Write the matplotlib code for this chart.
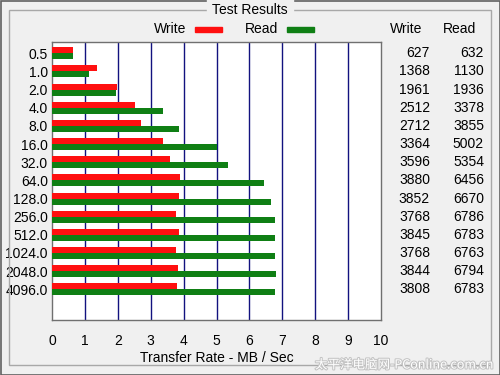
import numpy as np
import matplotlib
matplotlib.use("Agg")
import matplotlib.pyplot as plt
from matplotlib.transforms import blended_transform_factory
from matplotlib.patches import Rectangle
import matplotlib.patheffects as pe

# data (KB/s in the table, MB/s on the axis)
sizes = ["0.5", "1.0", "2.0", "4.0", "8.0", "16.0", "32.0", "64.0",
         "128.0", "256.0", "512.0", "1024.0", "2048.0", "4096.0"]
write_kb = [627, 1368, 1961, 2512, 2712, 3364, 3596, 3880,
            3852, 3768, 3845, 3768, 3844, 3808]
read_kb = [632, 1130, 1936, 3378, 3855, 5002, 5354, 6456,
           6670, 6786, 6783, 6763, 6794, 6783]
xticks = [0, 1, 2, 3, 4, 5, 6, 7, 8, 9, 10]

W, H = 500, 375
bg = "#f0f0f0"
red = "#ff1010"
green = "#0f7f14"
font = ["Liberation Sans Narrow", "Liberation Sans", "DejaVu Sans"]
plt.rcParams["font.family"] = font
fs = 10

fig = plt.figure(figsize=(W / 100, H / 100), dpi=100)
fig.patch.set_facecolor(bg)

def fx(px):
    return px / W

def fy(py):
    return 1 - py / H

# plot area
ax = fig.add_axes([fx(52), fy(320), fx(381) - fx(52), fy(42) - fy(320)])
ax.set_facecolor("white")

y = np.arange(len(sizes))
bh = 0.33
ax.barh(y - bh / 2, np.array(write_kb) / 1000, height=bh, color=red, zorder=3)
ax.barh(y + bh / 2, np.array(read_kb) / 1000, height=bh, color=green, zorder=3)

ax.set_xlim(0, 10)
ax.set_ylim(14.69, -0.62)
ax.set_xticks(xticks)
ax.set_xticklabels([str(v) for v in xticks], fontsize=fs)
ax.set_yticks(y)
ax.set_yticklabels(sizes, fontsize=fs)
ax.tick_params(length=0)
ax.tick_params(axis="x", pad=10)
ax.tick_params(axis="y", pad=3)
for v in xticks[1:-1]:
    ax.axvline(v, color="#12127f", lw=1, zorder=1)
for s in ax.spines.values():
    s.set_color("#707070")
    s.set_linewidth(1)
ax.set_xlabel("Transfer Rate - MB / Sec", fontsize=fs, labelpad=2)

# group box
fig.patches.append(Rectangle((fx(9), fy(365)), fx(491) - fx(9), fy(10) - fy(365),
                             transform=fig.transFigure, fill=False,
                             edgecolor="#a8a8a8", lw=1))
fig.patches.append(Rectangle((fx(0.5), fy(374.5)), fx(499), fy(0.5) - fy(374.5),
                             transform=fig.transFigure, fill=False,
                             edgecolor="#606060", lw=1.2))
fig.text(fx(250), fy(10), "Test Results", ha="center", va="center",
         fontsize=fs, backgroundcolor=bg)

# legend
fig.text(fx(186), fy(29), "Write", ha="right", va="center", fontsize=fs)
fig.patches.append(Rectangle((fx(195), fy(32)), fx(27), fy(27) - fy(32),
                             transform=fig.transFigure, color=red))
fig.text(fx(278), fy(29), "Read", ha="right", va="center", fontsize=fs)
fig.patches.append(Rectangle((fx(287), fy(32)), fx(27), fy(27) - fy(32),
                             transform=fig.transFigure, color=green))

# table on the right
fig.text(fx(406), fy(29), "Write", ha="center", va="center", fontsize=fs)
fig.text(fx(459), fy(29), "Read", ha="center", va="center", fontsize=fs)
tr = blended_transform_factory(fig.transFigure, ax.transData)
for i in range(len(sizes)):
    ax.text(fx(430), i, str(write_kb[i]), transform=tr, ha="right",
            va="center", fontsize=fs, clip_on=False)
    ax.text(fx(484), i, str(read_kb[i]), transform=tr, ha="right",
            va="center", fontsize=fs, clip_on=False)

# watermark
fig.text(fx(493), fy(365), "太平洋电脑网-PConline.com.cn", ha="right", va="center",
         fontsize=9, color="white", family=["Noto Sans CJK SC", "DejaVu Sans"],
         path_effects=[pe.withStroke(linewidth=1.5, foreground="#c4c4c4")])

fig.savefig("out.png", dpi=100, facecolor=bg)
